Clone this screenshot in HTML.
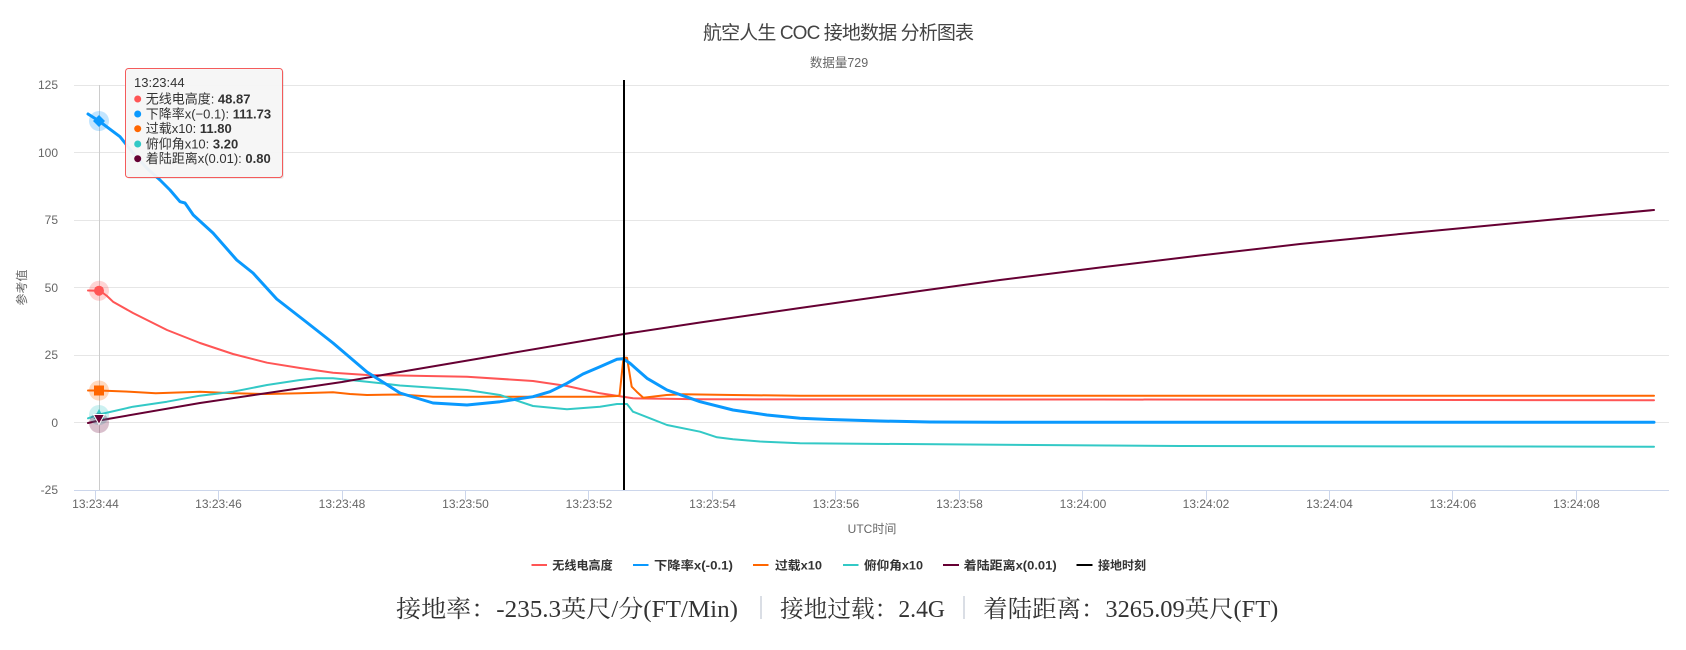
<!DOCTYPE html>
<html><head><meta charset="utf-8"><style>
html,body{margin:0;padding:0;background:#fff;}
svg{display:block;font-family:"Liberation Sans","Noto Sans CJK SC",sans-serif;}
</style></head><body>
<svg width="1686" height="650" viewBox="0 0 1686 650" xmlns="http://www.w3.org/2000/svg">
<rect width="1686" height="650" fill="#fff"/>
<!-- title -->
<text x="838.5" y="39" text-anchor="middle" font-size="19" fill="#444" textLength="271" lengthAdjust="spacing">航空人生 COC 接地数据 分析图表</text>
<text x="839" y="67" text-anchor="middle" font-size="12.5" fill="#666">数据量729</text>
<!-- grid -->
<g stroke="#e6e6e6" stroke-width="1">
<line x1="74" y1="85.5" x2="1669" y2="85.5"/>
<line x1="74" y1="152.5" x2="1669" y2="152.5"/>
<line x1="74" y1="220.5" x2="1669" y2="220.5"/>
<line x1="74" y1="287.5" x2="1669" y2="287.5"/>
<line x1="74" y1="355.5" x2="1669" y2="355.5"/>
<line x1="74" y1="422.5" x2="1669" y2="422.5"/>
</g>
<line x1="74" y1="490.5" x2="1669" y2="490.5" stroke="#ccd6eb" stroke-width="1"/>
<g stroke="#ccd6eb" stroke-width="1">
<line x1="95.5" y1="490" x2="95.5" y2="500"/><line x1="218.5" y1="490" x2="218.5" y2="500"/><line x1="342.5" y1="490" x2="342.5" y2="500"/><line x1="465.5" y1="490" x2="465.5" y2="500"/><line x1="588.5" y1="490" x2="588.5" y2="500"/><line x1="712.5" y1="490" x2="712.5" y2="500"/><line x1="835.5" y1="490" x2="835.5" y2="500"/><line x1="959.5" y1="490" x2="959.5" y2="500"/><line x1="1082.5" y1="490" x2="1082.5" y2="500"/><line x1="1206.5" y1="490" x2="1206.5" y2="500"/><line x1="1329.5" y1="490" x2="1329.5" y2="500"/><line x1="1452.5" y1="490" x2="1452.5" y2="500"/><line x1="1576.5" y1="490" x2="1576.5" y2="500"/>
</g>
<!-- y labels -->
<g font-size="12" fill="#666" text-anchor="end">
<text x="58" y="89">125</text><text x="58" y="157">100</text><text x="58" y="224">75</text><text x="58" y="292">50</text><text x="58" y="359">25</text><text x="58" y="427">0</text><text x="58" y="494">-25</text>
</g>
<text transform="translate(26,287.5) rotate(-90)" text-anchor="middle" font-size="12" fill="#666">参考值</text>
<!-- x labels -->
<g font-size="12" fill="#666" text-anchor="middle">
<text x="95.5" y="508">13:23:44</text><text x="218.5" y="508">13:23:46</text><text x="342" y="508">13:23:48</text><text x="465.5" y="508">13:23:50</text><text x="589" y="508">13:23:52</text><text x="712.5" y="508">13:23:54</text><text x="836" y="508">13:23:56</text><text x="959.5" y="508">13:23:58</text><text x="1083" y="508">13:24:00</text><text x="1206" y="508">13:24:02</text><text x="1329.5" y="508">13:24:04</text><text x="1453" y="508">13:24:06</text><text x="1576.5" y="508">13:24:08</text>
</g>
<text x="872" y="533" text-anchor="middle" font-size="12" fill="#666">UTC时间</text>
<!-- cursor -->
<line x1="99.5" y1="85" x2="99.5" y2="490" stroke="#ccc" stroke-width="1"/>
<!-- series -->
<g fill="none" stroke-linejoin="round" stroke-linecap="round">
<polyline stroke="#ff5555" stroke-width="2" points="88,290.5 99,290.7 103,293 107,296 113,301.7 133,313 167,330 200,343 233,354 267,362.7 300,368 333,372.7 367,375 400,375.5 467,376.7 533,381 567,386 600,393.3 633,398.3 700,399.3 1100,399.5 1654,400.3"/>
<polyline stroke="#ff6600" stroke-width="2" points="88,390.5 99,390.5 130,391.7 155.7,393.3 200,391.7 233,393.3 267,394 300,393.3 333,392.3 350,394 367,395 400,394.5 433,396.7 500,396.7 600,396.7 617,396 619.5,395.5 623.5,357.7 627,357.7 631.7,386.7 636.7,391.7 643.3,397.7 666.7,395 683,394.3 733,395 800,395.7 1654,395.7"/>
<polyline stroke="#33c9c6" stroke-width="2" points="88,418.3 99,414.5 133,406.7 167,401.7 200,395.7 233,391.7 267,385 300,380 317,378.3 333,378.3 367,381.7 400,385.5 467,390 500,395 533,406 567,409.3 600,406.7 617,404 627,404 633,411.7 650,418.3 667,425 700,431.7 717,437.3 733,439.3 760,441.5 800,443.3 1180,446 1654,446.7"/>
<polyline stroke="#660033" stroke-width="2" points="88,423 99,420.5 200,403 342,382 400,372 500,355 624,334 700,322.5 800,308 927,290 1000,280 1100,267.5 1200,255.5 1300,244 1400,234 1500,224.5 1600,215 1654,210"/>
<polyline stroke="#0a99fe" stroke-width="3" points="88,114 99,121 120,136.7 133,153 146.7,168 160,180 170,190 180,201.7 185,203 193.3,215 213,233 236.7,260 253,273 276.7,299 305,321 333,343 367,372 400,393 433,403 467,405 500,401.7 533,396.7 550,391.7 567,383.3 583,374 600,366.7 617,359.3 623,358.7 630,363.3 647,378.3 667,390 700,401.7 733,410 767,415 800,418.3 830,419.5 880,421 930,422 1000,422.3 1654,422.3"/>
</g>
<!-- touchdown line -->
<line x1="624" y1="80" x2="624" y2="490" stroke="#000" stroke-width="2"/>
<!-- hover markers -->
<circle cx="99" cy="290.7" r="10" fill="#ff5555" fill-opacity="0.25"/>
<circle cx="99" cy="290.7" r="5" fill="#ff5555"/>
<circle cx="99" cy="121" r="10" fill="#0a99fe" fill-opacity="0.25"/>
<polygon points="99,115 105,121 99,127 93,121" fill="#0a99fe"/>
<circle cx="99" cy="390.5" r="10" fill="#ff6600" fill-opacity="0.25"/>
<rect x="94" y="385.5" width="10" height="10" fill="#ff6600"/>
<circle cx="99" cy="415" r="10" fill="#33c9c6" fill-opacity="0.25"/>
<polygon points="99,409 104.5,419 93.5,419" fill="#33c9c6"/>
<circle cx="99" cy="423" r="10" fill="#660033" fill-opacity="0.25"/>
<polygon points="93.5,414.5 104.5,414.5 99,424.5" fill="#660033" stroke="#fff" stroke-width="1"/>
<!-- tooltip -->
<rect x="127" y="70" width="157" height="109" rx="3" fill="#000" fill-opacity="0.08"/>
<rect x="125.5" y="68.5" width="157" height="109" rx="3" fill="#f7f7f7" fill-opacity="0.95" stroke="#f45b5b" stroke-width="1"/>
<g font-size="13" fill="#333">
<text x="134" y="87">13:23:44</text>
<circle cx="137.7" cy="99" r="3.5" fill="#ff5555"/>
<text x="145.7" y="103.5">无线电高度: <tspan font-weight="bold">48.87</tspan></text>
<circle cx="137.7" cy="114" r="3.5" fill="#0a99fe"/>
<text x="145.7" y="118.5">下降率x(−0.1): <tspan font-weight="bold">111.73</tspan></text>
<circle cx="137.7" cy="128.7" r="3.5" fill="#ff6600"/>
<text x="145.7" y="133.2">过载x10: <tspan font-weight="bold">11.80</tspan></text>
<circle cx="137.7" cy="144" r="3.5" fill="#33c9c6"/>
<text x="145.7" y="148.5">俯仰角x10: <tspan font-weight="bold">3.20</tspan></text>
<circle cx="137.7" cy="158.7" r="3.5" fill="#660033"/>
<text x="145.7" y="163.2">着陆距离x(0.01): <tspan font-weight="bold">0.80</tspan></text>
</g>
<!-- legend -->
<g stroke-width="2">
<line x1="531.5" y1="565" x2="547" y2="565" stroke="#ff5555"/>
<line x1="633" y1="565" x2="648.5" y2="565" stroke="#0a99fe"/>
<line x1="753" y1="565" x2="768.5" y2="565" stroke="#ff6600"/>
<line x1="843" y1="565" x2="858.5" y2="565" stroke="#33c9c6"/>
<line x1="943" y1="565" x2="959" y2="565" stroke="#660033"/>
<line x1="1076.5" y1="565" x2="1092.5" y2="565" stroke="#000"/>
</g>
<g font-size="12" font-weight="bold" fill="#333">
<text x="552.3" y="569.5" textLength="60.4" lengthAdjust="spacingAndGlyphs">无线电高度</text>
<text x="654" y="569.5" textLength="79" lengthAdjust="spacingAndGlyphs">下降率x(-0.1)</text>
<text x="775" y="569.5" textLength="47" lengthAdjust="spacingAndGlyphs">过载x10</text>
<text x="864" y="569.5" textLength="59" lengthAdjust="spacingAndGlyphs">俯仰角x10</text>
<text x="963.7" y="569.5" textLength="93" lengthAdjust="spacingAndGlyphs">着陆距离x(0.01)</text>
<text x="1098" y="569.5" textLength="48" lengthAdjust="spacingAndGlyphs">接地时刻</text>
</g>
<!-- bottom stats -->
<g font-family="'Liberation Serif','Noto Serif CJK SC',serif" font-size="24" fill="#333">
<text x="396" y="617" textLength="342" lengthAdjust="spacingAndGlyphs">接地率：-235.3英尺/分(FT/Min)</text>
<text x="780" y="617" textLength="165" lengthAdjust="spacingAndGlyphs">接地过载：2.4G</text>
<text x="983.3" y="617" textLength="295" lengthAdjust="spacingAndGlyphs">着陆距离：3265.09英尺(FT)</text>
</g>
<line x1="761" y1="596" x2="761" y2="619" stroke="#b4bccb" stroke-width="1"/>
<line x1="964" y1="596" x2="964" y2="619" stroke="#b4bccb" stroke-width="1"/>
</svg>
</body></html>
